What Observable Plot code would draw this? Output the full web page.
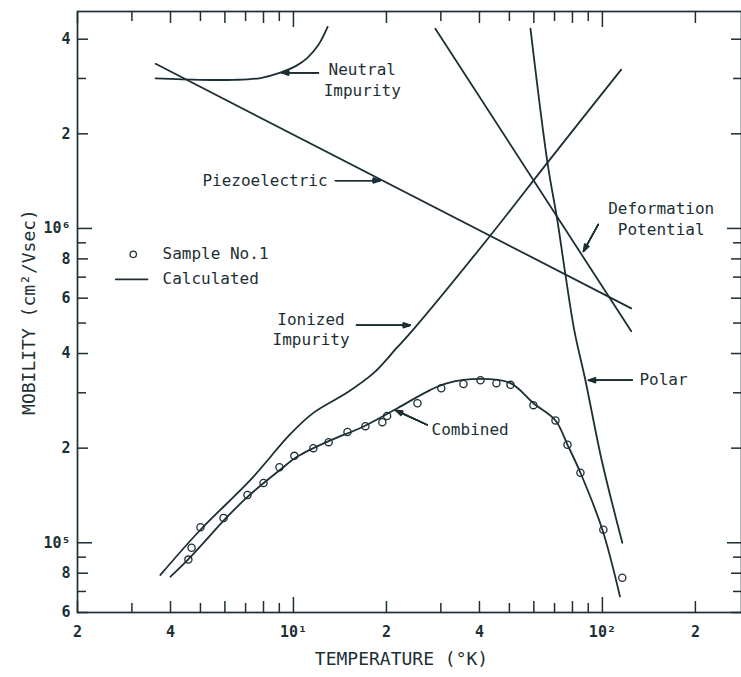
<!DOCTYPE html>
<html><head><meta charset="utf-8">
<script src="https://cdn.jsdelivr.net/npm/d3@7"></script>
<script src="https://cdn.jsdelivr.net/npm/@observablehq/plot@0.6"></script>
<style>html,body{margin:0;padding:0;background:#fff;overflow:hidden}#chart svg{display:block}</style>
</head><body><div id="chart"></div>
<script>
// ---- axis ticks ----
const xTickValues = [2, 4, 6, 8, 10, 20, 40, 60, 80, 100, 200];
const xTickLabels = ["2", "4", "6", "8", "10¹", "2", "4", "6", "8", "10²", "2"];
const xMinorTicks = [3, 5, 7, 9, 30, 50, 70, 90];
const xDecadeTicks = [10, 100];
const yTickValues = [6e4, 8e4, 1e5, 2e5, 4e5, 6e5, 8e5, 1e6, 2e6, 4e6];
const yTickLabels = ["6", "8", "10⁵", "2", "4", "6", "8", "10⁶", "2", "4"];
const yMinorTicks = [7e4, 9e4, 3e5, 5e5, 7e5, 9e5, 3e6];
const yDecadeTicks = [1e5, 1e6];
const xTitle = "TEMPERATURE (°K)";
const yTitle = "MOBILITY (cm²/Vsec)";

// ---- calculated curves (T in K, mobility in cm²/Vsec) ----
const neutralT  = [3.58, 5.0, 6.4, 7.82, 9.07, 10.2, 11.1, 12.05, 12.9];
const neutralMu = [3.0e6, 2.97e6, 2.97e6, 3.01e6, 3.13e6, 3.29e6, 3.49e6, 3.84e6, 4.38e6];
const piezoT  = [3.58, 124];
const piezoMu = [3.34e6, 5.57e5];
const deformT  = [28.8, 124];
const deformMu = [4.32e6, 4.71e5];
const polarT  = [58.5, 66.4, 71.5, 75.9, 81.1, 88.1, 99.5, 116];
const polarMu = [4.32e6, 1.62e6, 1.06e6, 7.14e5, 4.74e5, 3.29e5, 1.83e5, 1.0e5];
const ionizedT  = [3.71, 5.0, 7.26, 9.78, 11.6, 14.96, 18.2, 21.7, 24.3, 43.4, 66.4, 115];
const ionizedMu = [7.9e4, 1.10e5, 1.585e5, 2.22e5, 2.59e5, 3.01e5, 3.47e5, 4.19e5, 4.74e5, 9.5e5, 1.62e6, 3.2e6];
const combinedT  = [4.0, 4.64, 6.11, 7.10, 9.08, 10.3, 13.2, 16.8, 21.7, 27.7, 31.5, 40.3, 50.4, 59.8, 70.5, 77.1, 84.9, 100, 114];
const combinedMu = [7.8e4, 9.0e4, 1.21e5, 1.40e5, 1.71e5, 1.88e5, 2.12e5, 2.34e5, 2.68e5, 3.06e5, 3.22e5, 3.32e5, 3.22e5, 2.78e5, 2.45e5, 2.05e5, 1.67e5, 1.10e5, 6.75e4];

// ---- measured sample No.1 ----
const sampleT  = [4.57, 4.68, 5.0, 5.94, 7.10, 8.0, 9.01, 10.07, 11.6, 13.0, 14.96, 17.1, 19.4, 20.1, 25.2, 30.1, 35.5, 40.3, 45.4, 50.4, 59.8, 70.5, 77.1, 84.9, 100.7, 116];
const sampleMu = [8.84e4, 9.64e4, 1.12e5, 1.20e5, 1.42e5, 1.55e5, 1.74e5, 1.89e5, 2.0e5, 2.09e5, 2.25e5, 2.35e5, 2.42e5, 2.53e5, 2.78e5, 3.10e5, 3.20e5, 3.29e5, 3.22e5, 3.18e5, 2.74e5, 2.45e5, 2.05e5, 1.67e5, 1.10e5, 7.74e4];

// ---- annotations ----
const centerLabelText = ["Neutral\nImpurity", "Deformation\nPotential", "Ionized\nImpurity"];
const centerLabelT  = [16.7, 155, 11.4];
const centerLabelMu = [2.99e6, 1.08e6, 4.81e5];
const endLabelText = ["Piezoelectric"];
const endLabelT  = [12.9];
const endLabelMu = [1.42e6];
const startLabelText = ["Polar", "Combined", "Sample No.1", "Calculated"];
const startLabelT  = [131.8, 28.0, 3.77, 3.77];
const startLabelMu = [3.29e5, 2.28e5, 8.27e5, 6.89e5];
const arrowT1  = [12.05, 13.67, 97.0, 16.0, 125, 27.1];
const arrowMu1 = [3.13e6, 1.42e6, 1.03e6, 4.92e5, 3.29e5, 2.37e5];
const arrowT2  = [9.15, 19.1, 86.8, 23.9, 90.1, 21.4];
const arrowMu2 = [3.13e6, 1.42e6, 8.45e5, 4.92e5, 3.29e5, 2.64e5];
const legendDotT = [3.03];
const legendDotMu = [8.27e5];
const legendLineT = [2.66, 3.37];
const legendLineMu = [6.89e5, 6.89e5];

const INK = "#1c2f35";
const FONT = "'DejaVu Sans Mono', monospace";
const pts = (Ts, Ms) => Ts.map((t, i) => ({T: t, mu: Ms[i]}));
const lbl = (txt, Ts, Ms) => txt.map((s, i) => ({s, T: Ts[i], mu: Ms[i]}));
const xLab = new Map(xTickValues.map((v, i) => [v, xTickLabels[i]]));
const yLab = new Map(yTickValues.map((v, i) => [v, yTickLabels[i]]));
const xLabeledNonDecade = xTickValues.filter(v => !xDecadeTicks.includes(v));
const yLabeledNonDecade = yTickValues.filter(v => !yDecadeTicks.includes(v));
const blank = () => "";
const arrows = arrowT1.map((t, i) => ({x1: t, y1: arrowMu1[i], x2: arrowT2[i], y2: arrowMu2[i]}));

const tickMarks = [];
for (const anchor of ["bottom", "top"]) {
  tickMarks.push(Plot.axisX(xLabeledNonDecade, {anchor, tickSize: -11, tickFormat: blank, label: null, stroke: INK, strokeWidth: 1.5}));
  tickMarks.push(Plot.axisX(xMinorTicks, {anchor, tickSize: -9, tickFormat: blank, label: null, stroke: INK, strokeWidth: 1.5}));
  tickMarks.push(Plot.axisX(xDecadeTicks, {anchor, tickSize: -15, tickFormat: blank, label: null, stroke: INK, strokeWidth: 1.5}));
}
for (const anchor of ["left", "right"]) {
  tickMarks.push(Plot.axisY(yLabeledNonDecade, {anchor, tickSize: -11, tickFormat: blank, label: null, stroke: INK, strokeWidth: 1.5}));
  tickMarks.push(Plot.axisY(yMinorTicks, {anchor, tickSize: -9, tickFormat: blank, label: null, stroke: INK, strokeWidth: 1.5}));
  tickMarks.push(Plot.axisY(yDecadeTicks, {anchor, tickSize: -15, tickFormat: blank, label: null, stroke: INK, strokeWidth: 1.5}));
}

const arrowMarks = [40, 28, 16, 6].map(a =>
  Plot.arrow(arrows, {x1: "x1", y1: "y1", x2: "x2", y2: "y2", stroke: INK, strokeWidth: 1.4, headLength: 8, headAngle: a}));

const chart = Plot.plot({
  width: 741, height: 677,
  marginLeft: 77, marginRight: 0, marginTop: 11, marginBottom: 65,
  x: {type: "log", domain: [2, 282]},
  y: {type: "log", domain: [6e4, 4.9e6]},
  style: {fontFamily: FONT, fontSize: "15px", color: INK, background: "#fff"},
  marks: [
    ...tickMarks,
    Plot.axisX(xTickValues, {anchor: "bottom", tickSize: 0, tickPadding: 14, tickFormat: d => xLab.get(d), label: null, fontSize: 15, fontWeight: "bold"}),
    Plot.axisY(yTickValues, {anchor: "left", tickSize: 0, tickPadding: 7, tickFormat: d => yLab.get(d), label: null, fontSize: 15, fontWeight: "bold"}),
    Plot.frame({stroke: INK, strokeWidth: 1.7}),
    Plot.text([xTitle], {frameAnchor: "bottom", textAnchor: "middle", dx: -8, dy: 52, fontSize: 18, fill: INK}),
    Plot.text([yTitle], {frameAnchor: "left", textAnchor: "middle", lineAnchor: "middle", dx: -48, rotate: -90, fontSize: 18, fill: INK}),
    Plot.line(pts(neutralT, neutralMu), {x: "T", y: "mu", curve: "catmull-rom", stroke: INK, strokeWidth: 1.8}),
    Plot.line(pts(piezoT, piezoMu), {x: "T", y: "mu", stroke: INK, strokeWidth: 1.8}),
    Plot.line(pts(deformT, deformMu), {x: "T", y: "mu", stroke: INK, strokeWidth: 1.8}),
    Plot.line(pts(polarT, polarMu), {x: "T", y: "mu", curve: "catmull-rom", stroke: INK, strokeWidth: 1.8}),
    Plot.line(pts(ionizedT, ionizedMu), {x: "T", y: "mu", curve: "catmull-rom", stroke: INK, strokeWidth: 1.8}),
    Plot.line(pts(combinedT, combinedMu), {x: "T", y: "mu", curve: "catmull-rom", stroke: INK, strokeWidth: 1.8}),
    Plot.dot(pts(sampleT, sampleMu), {x: "T", y: "mu", r: 3.6, stroke: INK, strokeWidth: 1.3, fill: "none"}),
    Plot.dot(pts(legendDotT, legendDotMu), {x: "T", y: "mu", r: 3.2, stroke: INK, strokeWidth: 1.3, fill: "none"}),
    Plot.line(pts(legendLineT, legendLineMu), {x: "T", y: "mu", stroke: INK, strokeWidth: 1.8}),
    ...arrowMarks,
    Plot.text(lbl(centerLabelText, centerLabelT, centerLabelMu), {x: "T", y: "mu", text: "s", textAnchor: "middle", lineHeight: 1.3, fontSize: 16, fill: INK}),
    Plot.text(lbl(endLabelText, endLabelT, endLabelMu), {x: "T", y: "mu", text: "s", textAnchor: "end", fontSize: 16, fill: INK}),
    Plot.text(lbl(startLabelText, startLabelT, startLabelMu), {x: "T", y: "mu", text: "s", textAnchor: "start", fontSize: 16, fill: INK})
  ]
});
document.getElementById("chart").appendChild(chart);
</script>
</body></html>
